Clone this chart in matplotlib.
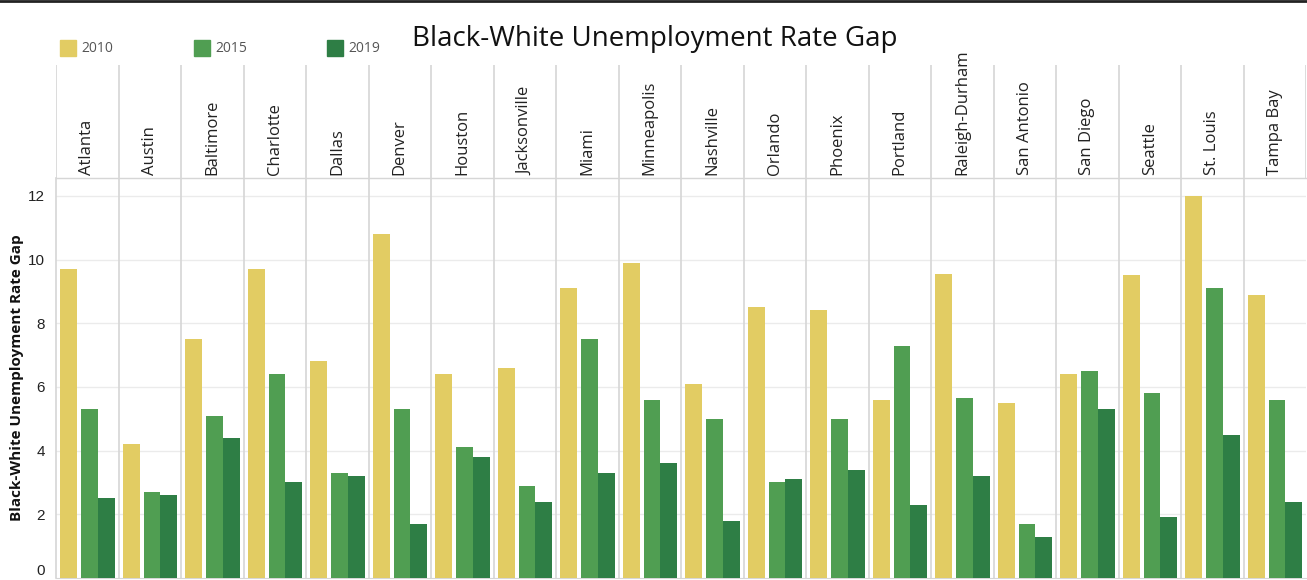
import matplotlib
matplotlib.use('Agg')
import matplotlib.pyplot as plt
from matplotlib.lines import Line2D

plt.rcParams['font.family'] = ['Open Sans', 'DejaVu Sans']

cities = ['Atlanta', 'Austin', 'Baltimore', 'Charlotte', 'Dallas', 'Denver',
          'Houston', 'Jacksonville', 'Miami', 'Minneapolis', 'Nashville',
          'Orlando', 'Phoenix', 'Portland', 'Raleigh-Durham', 'San Antonio',
          'San Diego', 'Seattle', 'St. Louis', 'Tampa Bay']
gap_2010 = [9.7, 4.2, 7.5, 9.7, 6.8, 10.8, 6.4, 6.6, 9.1, 9.9,
            6.1, 8.5, 8.4, 5.6, 9.55, 5.5, 6.4, 9.5, 12.0, 8.9]
gap_2015 = [5.3, 2.7, 5.1, 6.4, 3.3, 5.3, 4.1, 2.9, 7.5, 5.6,
            5.0, 3.0, 5.0, 7.3, 5.65, 1.7, 6.5, 5.8, 9.1, 5.6]
gap_2019 = [2.5, 2.6, 4.4, 3.0, 3.2, 1.7, 3.8, 2.4, 3.3, 3.6,
            1.8, 3.1, 3.4, 2.3, 3.2, 1.3, 5.3, 1.9, 4.5, 2.4]
years = ['2010', '2015', '2019']
yticks = [0, 2, 4, 6, 8, 10, 12]

colors = ['#e2cc63', '#509e52', '#2e7e45']
line_col = '#d6d6d6'
W, H = 1307, 580

fig = plt.figure(figsize=(W / 100, H / 100), dpi=100)

# main plot area: x 56..1306, y 178..578 px
left = 56 / W
width = 1250 / W
ax = fig.add_axes([left, 2 / H, width, 400 / H])
n = len(cities)
xs = list(range(n))
bw = 0.27
ax.bar([x + 0.07 for x in xs], gap_2010, width=bw, align='edge', color=colors[0], zorder=3)
ax.bar([x + 0.40 for x in xs], gap_2015, width=bw, align='edge', color=colors[1], zorder=3)
ax.bar([x + 0.67 for x in xs], gap_2019, width=bw, align='edge', color=colors[2], zorder=3)
ax.set_xlim(0, n)
ax.set_ylim(0, 12.56)
ax.set_xticks([])
ax.set_yticks(yticks)
ax.set_yticklabels([str(t) for t in yticks], fontsize=11, family='Liberation Sans', color='#222222')
ax.get_yticklabels()[0].set_verticalalignment('bottom')
ax.tick_params(axis='y', length=0, pad=8)
for t in yticks[1:]:
    ax.axhline(t, color='#ebebeb', lw=1, zorder=1)
for x in range(1, n):
    ax.axvline(x, color=line_col, lw=1.2, zorder=2)
ax.spines['right'].set_visible(False)
ax.spines['left'].set_color(line_col)
ax.spines['left'].set_linewidth(1.2)
ax.spines['bottom'].set_color(line_col)
ax.spines['top'].set_color(line_col)
ax.spines['top'].set_linewidth(1.0)
ax.set_ylabel('Black-White Unemployment Rate Gap', fontsize=11, fontweight='bold',
              color='#111111', labelpad=3)

# header with the city names
hx = fig.add_axes([left, 402 / H, width, 113 / H])
hx.set_xlim(0, n)
hx.set_ylim(0, 1)
hx.axis('off')
for x in range(n + 1):
    hx.axvline(x, color=line_col, lw=1.2)
for i, c in enumerate(cities):
    hx.text(i + 0.5, 0.03, c, rotation=90, ha='center', va='bottom',
            fontsize=12, color='#222222', clip_on=False)

fig.text(655 / W, 1 - 39 / H, 'Black-White Unemployment Rate Gap', ha='center',
         va='center', fontsize=20, color='#111111')

# legend
for xpos, yr, col in zip([60, 194, 327], years, colors):
    fig.patches.append(plt.Rectangle((xpos / W, 1 - 56 / H), 16 / W, 16 / H,
                                     transform=fig.transFigure, color=col))
    fig.text((xpos + 21) / W, 1 - 48 / H, yr, ha='left', va='center',
             fontsize=10, color='#555555')

fig.add_artist(Line2D([0, 1], [1 - 1 / H, 1 - 1 / H], color='#222222', lw=2))

fig.savefig('out.png', dpi=100)
